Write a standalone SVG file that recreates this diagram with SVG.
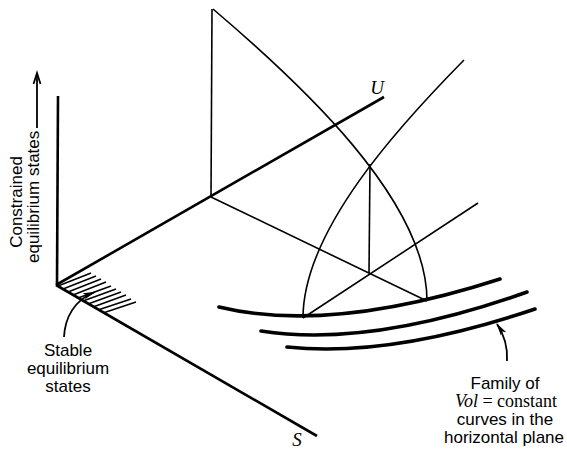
<svg xmlns="http://www.w3.org/2000/svg" width="567" height="450" viewBox="0 0 567 450">
<defs>
<marker id="ah" markerWidth="13" markerHeight="8" refX="12" refY="4" orient="auto" markerUnits="userSpaceOnUse"><path d="M0,0.8 L13,4 L0,7.2 L3,4 z" fill="#000"/></marker>
</defs>
<style>
.ax{stroke:#000;stroke-width:2.6;fill:none;stroke-linecap:butt}
.th{stroke:#000;stroke-width:1.6;fill:none}
.vol{stroke:#000;stroke-width:3.6;fill:none;stroke-linecap:round}
.hat{stroke:#000;stroke-width:1.4}
.ptr{stroke:#000;stroke-width:1.8;fill:none}
.sans{font-family:"Liberation Sans",Arial,sans-serif;font-size:17px;fill:#000}
.ser{font-family:"Liberation Serif","Times New Roman",serif;fill:#000}
</style>
<rect width="567" height="450" fill="#fff"/>
<g id="axes">
<line class="ax" x1="57" y1="285" x2="58" y2="96"/>
<line class="ax" x1="56" y1="285" x2="317" y2="436"/>
<line class="ax" x1="56" y1="285" x2="384" y2="97"/>
</g>
<g id="surface">
<line class="th" x1="212" y1="9" x2="211" y2="197"/>
<path class="th" d="M213,9 C300,83 427,200 427,301"/>
<path class="th" d="M464,60 C400,125 303,230 303,318"/>
<line class="th" x1="370" y1="164" x2="369" y2="273"/>
<line class="th" x1="211" y1="197" x2="427" y2="301"/>
<line class="th" x1="303" y1="318" x2="478" y2="203"/>
</g>
<g id="vol-curves">
<path class="vol" d="M219,307 Q330,334 500,279"/>
<path class="vol" d="M261,331 Q370,348 527,292"/>
<path class="vol" d="M287,347 Q390,358 535,309"/>
</g>
<g id="hatching">
<line class="hat" x1="58" y1="286" x2="91" y2="273"/>
<line class="hat" x1="63" y1="289" x2="96" y2="276"/>
<line class="hat" x1="68" y1="292" x2="101" y2="279"/>
<line class="hat" x1="73" y1="295" x2="106" y2="282"/>
<line class="hat" x1="78" y1="298" x2="111" y2="286"/>
<line class="hat" x1="83" y1="301" x2="116" y2="289"/>
<line class="hat" x1="88" y1="304" x2="121" y2="292"/>
<line class="hat" x1="93" y1="307" x2="126" y2="295"/>
<line class="hat" x1="98" y1="310" x2="131" y2="299"/>
<line class="hat" x1="103" y1="313" x2="136" y2="302"/>
</g>
<g id="connectors">
<path class="ptr" d="M64,337 C65,318 74,300 95,292" marker-end="url(#ah)"/>
<path class="ptr" d="M507,361 C508,345 503,333 497,324" marker-end="url(#ah)"/>
<line class="ptr" x1="37" y1="128" x2="37" y2="73" stroke-width="1.5"/>
<polyline class="ptr" points="33.5,84 37,73 40.5,84" stroke-width="1.5"/>
</g>
<g id="labels">
<text class="ser" x="377" y="94" font-size="19" font-style="italic" text-anchor="middle">U</text>
<text class="ser" x="297" y="446" font-size="19" font-style="italic" text-anchor="middle">S</text>
<text class="sans" transform="translate(22,202) rotate(-90)" text-anchor="middle">Constrained</text>
<text class="sans" transform="translate(39,263) rotate(-90)" text-anchor="start">equilibrium states</text>
<text class="sans" x="68" y="356" text-anchor="middle">Stable</text>
<text class="sans" x="68" y="374" text-anchor="middle">equilibrium</text>
<text class="sans" x="68" y="392" text-anchor="middle">states</text>
<text class="sans" x="505" y="389" text-anchor="middle">Family of</text>
<text class="ser" x="506" y="407" font-size="18" text-anchor="middle"><tspan font-style="italic">Vol</tspan> = constant</text>
<text class="sans" x="505" y="425" text-anchor="middle">curves in the</text>
<text class="sans" x="504" y="443" text-anchor="middle">horizontal plane</text>
</g>
</svg>
